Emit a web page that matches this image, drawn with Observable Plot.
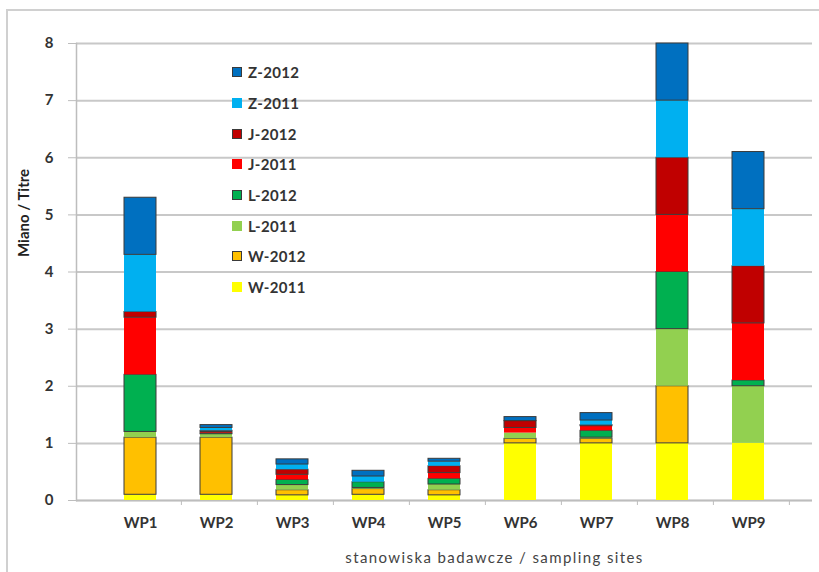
<!DOCTYPE html>
<html>
<head>
<meta charset="utf-8">
<script src="https://cdn.jsdelivr.net/npm/d3@7"></script>
<script src="https://cdn.jsdelivr.net/npm/@observablehq/plot@0.6"></script>
<style>
  html, body { margin: 0; padding: 0; background: #fff; }
  #wrap { position: relative; width: 819px; height: 572px; overflow: hidden; font-family: Lato, "Open Sans", sans-serif; }
  #border { position: absolute; left: 6px; top: 9px; width: 830px; height: 600px; border: 2px solid #d0d0d0; box-sizing: border-box; }
  #legend { position: absolute; left: 232px; top: 57px; }
  .li { height: 30.7px; display: flex; align-items: center; font-weight: bold; font-size: 15px; color: #333; letter-spacing: 0.3px; }
  .sw { width: 10px; height: 10px; margin-right: 6px; box-sizing: border-box; }
</style>
</head>
<body>
<div id="wrap"><div id="border"></div><div id="chart"></div><div id="legend"></div></div>
<script>
const sites = ["WP1","WP2","WP3","WP4","WP5","WP6","WP7","WP8","WP9"];
const series = ["W-2011","W-2012","L-2011","L-2012","J-2011","J-2012","Z-2011","Z-2012"];
const colors = ["#ffff00","#ffc000","#92d050","#00b050","#ff0000","#c00000","#00b0f0","#0070c0"];
const outlined = [false,true,false,true,false,true,false,true];
const W2011 = [0.1, 0.1, 0.09, 0.1, 0.09, 1.0, 1.0, 1, 1];
const W2012 = [1.0, 1.0, 0.09, 0.1, 0.09, 0.08, 0.08, 1, 0];
const L2011 = [0.1, 0.06, 0.09, 0.02, 0.1, 0.1, 0.02, 1, 1];
const L2012 = [1.0, 0.02, 0.09, 0.1, 0.1, 0, 0.12, 1, 0.1];
const J2011 = [1.0, 0.02, 0.09, 0, 0.1, 0.09, 0.08, 1, 1];
const J2012 = [0.1, 0.02, 0.09, 0, 0.12, 0.12, 0.02, 1, 1];
const Z2011 = [1.0, 0.05, 0.09, 0.1, 0.08, 0, 0.08, 1, 1];
const Z2012 = [1.0, 0.05, 0.09, 0.1, 0.05, 0.07, 0.13, 1, 1];
const yTicks = [0,1,2,3,4,5,6,7,8];
const yLabel = "Miano / Titre";
const xLabel = "stanowiska badawcze / sampling sites";

const valuesBySeries = [W2011, W2012, L2011, L2012, J2011, J2012, Z2011, Z2012];
const data = [];
sites.forEach((s, i) => series.forEach((k, j) => data.push({site: s, series: k, value: valuesBySeries[j][i], idx: j})));

const chart = Plot.plot({
  width: 819,
  height: 572,
  marginLeft: 76,
  marginRight: 7,
  marginTop: 43,
  marginBottom: 72,
  style: {fontFamily: "Lato, 'Open Sans', sans-serif", fontSize: "15px", fontWeight: "bold", color: "#333", background: "transparent"},
  x: {domain: sites, padding: 0.58, label: null},
  y: {domain: [0, 8], label: null},
  color: {domain: series, range: colors},
  marks: [
    Plot.gridY(yTicks, {stroke: "#c8c8c8", strokeOpacity: 1, strokeWidth: 2}),
    Plot.ruleY([0], {stroke: "#bdbdbd", strokeWidth: 1.5}),
    Plot.frame({anchor: "left", stroke: "#bdbdbd", strokeWidth: 1.5}),
    Plot.barY(data, {
      x: "site", y: "value", fill: "series", order: series,
      stroke: d => outlined[d.idx] && d.value > 0 ? "#3a3a3a" : "none",
      strokeWidth: 1
    }),
    Plot.ruleX(sites, {x: d => d, dx: 40.9, y1: 0, y2: 0, insetBottom: -5, stroke: "#bdbdbd"}),
    Plot.axisY({ticks: yTicks, tickSize: 8, tickPadding: 15, tickFormat: d3.format("d"), stroke: "#bdbdbd", strokeOpacity: 1, fill: "#333", label: null}),
    Plot.axisX({tickSize: 0, tickPadding: 17, fill: "#333", label: null}),
    Plot.text([yLabel], {frameAnchor: "left", dx: -52, dy: -15, rotate: -90, fontSize: 15, fontWeight: "bold", fill: "#222"}),
    Plot.text([xLabel], {frameAnchor: "bottom", dx: 50, dy: 62, fontSize: 15, fontWeight: "normal", fill: "#444", className: "xlab"})
  ]
});
document.getElementById("chart").appendChild(chart);
d3.select(chart).selectAll("g.xlab text, .xlab text").style("letter-spacing", "1.4px");

const legend = document.getElementById("legend");
for (let j = series.length - 1; j >= 0; j--) {
  const row = document.createElement("div");
  row.className = "li";
  const sw = document.createElement("div");
  sw.className = "sw";
  sw.style.background = colors[j];
  if (outlined[j]) sw.style.border = "1px solid #3a3a3a";
  row.appendChild(sw);
  row.appendChild(document.createTextNode(series[j]));
  legend.appendChild(row);
}
</script>
</body>
</html>
